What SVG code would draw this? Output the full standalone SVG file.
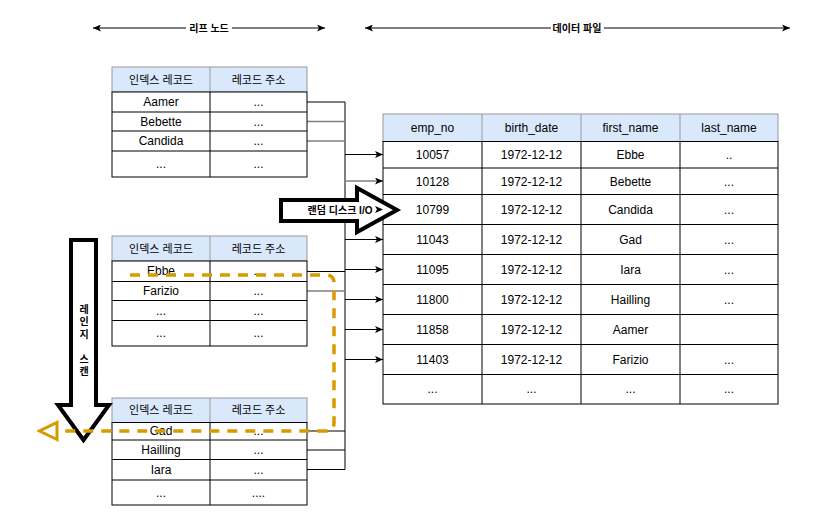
<svg xmlns="http://www.w3.org/2000/svg" width="821" height="527" viewBox="0 0 821 527">
<defs>
<marker id="ah" viewBox="0 0 8 7" markerWidth="8" markerHeight="7" refX="8" refY="3.5" orient="auto-start-reverse" markerUnits="userSpaceOnUse">
<path d="M0,0 L8,3.5 L0,7 L2,3.5 z" fill="#000"/>
</marker>
<marker id="open" viewBox="0 0 22 22" markerWidth="22" markerHeight="22" refX="2" refY="11" orient="auto" markerUnits="userSpaceOnUse">
<path d="M2,2.5 L19.5,11 L2,19.5 z" fill="none" stroke="#d79b00" stroke-width="3"/>
</marker>
</defs>
<style>
text{font-family:"Liberation Sans","Noto Sans CJK KR",sans-serif;fill:#000;text-anchor:middle;dominant-baseline:central}
.t{font-size:12px}
.h{font-size:11px}
.b{font-size:10px;font-weight:bold}
.hd{fill:#dae8fc;stroke:#999;stroke-width:1}
.bd{fill:#fff;stroke:#000;stroke-width:1}
.ln{stroke:#000;stroke-width:1;fill:none}
.gr{stroke:#808080;stroke-width:1.3;fill:none}
.big{fill:#fff;stroke:#000;stroke-width:4;stroke-linejoin:miter}
</style>
<rect width="821" height="527" fill="#fff"/>

<g id="leaf-label">
<line x1="93" y1="28" x2="325" y2="28" class="ln" marker-start="url(#ah)" marker-end="url(#ah)"/>
<rect x="186" y="21" width="46" height="14" fill="#fff"/>
<text class="b" x="209" y="28">리프 노드</text>
</g>
<g id="data-label">
<line x1="365" y1="28" x2="790" y2="28" class="ln" marker-start="url(#ah)" marker-end="url(#ah)"/>
<rect x="551" y="21" width="53" height="14" fill="#fff"/>
<text class="b" x="577" y="28">데이터 파일</text>
</g>

<g id="connectors">
<path class="ln" d="M307,102 H345 V469.5"/>
<path class="gr" d="M307,121.5 H345"/>
<path class="gr" d="M307,141 H345"/>
<path class="ln" d="M307,271.5 H345"/>
<path class="gr" d="M307,291 H345"/>
<path class="ln" d="M307,431 H345"/>
<path class="ln" d="M307,450 H345"/>
<path class="ln" d="M307,469.5 H345"/>
<line class="ln" x1="345" y1="154.5" x2="383" y2="154.5" marker-end="url(#ah)"/>
<line class="gr" x1="345" y1="181" x2="383" y2="181" marker-end="url(#ah)"/>
<line class="ln" x1="345" y1="209.5" x2="383" y2="209.5"/>
<line class="ln" x1="345" y1="239.5" x2="383" y2="239.5" marker-end="url(#ah)"/>
<line class="ln" x1="345" y1="269.5" x2="383" y2="269.5" marker-end="url(#ah)"/>
<line class="ln" x1="345" y1="299.5" x2="383" y2="299.5" marker-end="url(#ah)"/>
<line class="ln" x1="345" y1="329.5" x2="383" y2="329.5" marker-end="url(#ah)"/>
<line class="ln" x1="345" y1="359.5" x2="383" y2="359.5" marker-end="url(#ah)"/>
</g>

<g id="leaf1">
<rect class="hd" x="112" y="67" width="195" height="25"/>
<line x1="210" y1="67" x2="210" y2="92" stroke="#999"/>
<rect class="bd" x="112" y="92" width="195" height="85"/>
<path class="ln" d="M112,112 H307 M112,131 H307 M112,151 H307 M210,92 V177"/>
<text class="h" x="161" y="80">인덱스 레코드</text><text class="h" x="258.5" y="80">레코드 주소</text>
<text class="t" x="161" y="102">Aamer</text><text class="t" x="258.5" y="102">...</text>
<text class="t" x="161" y="121.5">Bebette</text><text class="t" x="258.5" y="121.5">...</text>
<text class="t" x="161" y="141">Candida</text><text class="t" x="258.5" y="141">...</text>
<text class="t" x="161" y="164">...</text><text class="t" x="258.5" y="164">...</text>
</g>

<g id="leaf2">
<rect class="hd" x="112" y="236" width="195" height="25"/>
<line x1="210" y1="236" x2="210" y2="261" stroke="#999"/>
<rect class="bd" x="112" y="261" width="195" height="85"/>
<path class="ln" d="M112,281.5 H307 M112,300.5 H307 M112,320.5 H307 M210,261 V346"/>
<text class="h" x="161" y="249">인덱스 레코드</text><text class="h" x="258.5" y="249">레코드 주소</text>
<text class="t" x="161" y="271">Ebbe</text><text class="t" x="258.5" y="271">...</text>
<text class="t" x="161" y="291">Farizio</text><text class="t" x="258.5" y="291">...</text>
<text class="t" x="161" y="310.5">...</text><text class="t" x="258.5" y="310.5">...</text>
<text class="t" x="161" y="333">...</text><text class="t" x="258.5" y="333">...</text>
</g>

<g id="leaf3">
<rect class="hd" x="112" y="398" width="195" height="24.5"/>
<line x1="210" y1="398" x2="210" y2="422.5" stroke="#999"/>
<rect class="bd" x="112" y="422.5" width="195" height="82.5"/>
<path class="ln" d="M112,440 H307 M112,459.5 H307 M112,480 H307 M210,422.5 V505"/>
<text class="h" x="161" y="410">인덱스 레코드</text><text class="h" x="258.5" y="410">레코드 주소</text>
<text class="t" x="161" y="431">Gad</text><text class="t" x="258.5" y="431">...</text>
<text class="t" x="161" y="450">Hailling</text><text class="t" x="258.5" y="450">...</text>
<text class="t" x="161" y="470">Iara</text><text class="t" x="258.5" y="470">...</text>
<text class="t" x="161" y="492.5">...</text><text class="t" x="258.5" y="492.5">....</text>
</g>

<g id="datafile">
<rect class="hd" x="383" y="114" width="395" height="27.5"/>
<path d="M482,114 V141.5 M581,114 V141.5 M680,114 V141.5" stroke="#999"/>
<rect class="bd" x="383" y="141.5" width="395" height="262.5"/>
<path class="ln" d="M383,168 H778 M383,194.5 H778 M383,224.5 H778 M383,254.5 H778 M383,284.5 H778 M383,314.5 H778 M383,344.5 H778 M383,374.5 H778 M482,141.5 V404 M581,141.5 V404 M680,141.5 V404"/>
<text class="t" x="432.5" y="128">emp_no</text><text class="t" x="531.5" y="128">birth_date</text><text class="t" x="630.5" y="128">first_name</text><text class="t" x="729" y="128">last_name</text>
<text class="t" x="432.5" y="155">10057</text><text class="t" x="531.5" y="155">1972-12-12</text><text class="t" x="630.5" y="155">Ebbe</text><text class="t" x="729" y="155">..</text>
<text class="t" x="432.5" y="181.5">10128</text><text class="t" x="531.5" y="181.5">1972-12-12</text><text class="t" x="630.5" y="181.5">Bebette</text><text class="t" x="729" y="181.5">...</text>
<text class="t" x="432.5" y="209.5">10799</text><text class="t" x="531.5" y="209.5">1972-12-12</text><text class="t" x="630.5" y="209.5">Candida</text><text class="t" x="729" y="209.5">...</text>
<text class="t" x="432.5" y="239.5">11043</text><text class="t" x="531.5" y="239.5">1972-12-12</text><text class="t" x="630.5" y="239.5">Gad</text><text class="t" x="729" y="239.5">...</text>
<text class="t" x="432.5" y="269.5">11095</text><text class="t" x="531.5" y="269.5">1972-12-12</text><text class="t" x="630.5" y="269.5">Iara</text><text class="t" x="729" y="269.5">...</text>
<text class="t" x="432.5" y="299.5">11800</text><text class="t" x="531.5" y="299.5">1972-12-12</text><text class="t" x="630.5" y="299.5">Hailling</text><text class="t" x="729" y="299.5">...</text>
<text class="t" x="432.5" y="329.5">11858</text><text class="t" x="531.5" y="329.5">1972-12-12</text><text class="t" x="630.5" y="329.5">Aamer</text>
<text class="t" x="432.5" y="359.5">11403</text><text class="t" x="531.5" y="359.5">1972-12-12</text><text class="t" x="630.5" y="359.5">Farizio</text><text class="t" x="729" y="359.5">...</text>
<text class="t" x="432.5" y="389">...</text><text class="t" x="531.5" y="389">...</text><text class="t" x="630.5" y="389">...</text><text class="t" x="729" y="389">...</text>
</g>

<g id="random-io">
<polygon class="big" points="281,200 357,200 357,188 397,210 357,232 357,221 281,221"/>
<text class="b" x="340" y="210">랜덤 디스크 I/O</text>
<path d="M375,206 L383,209.5 L375,213 L377,209.5 z" fill="#000"/>
</g>

<g id="range-scan">
<polygon class="big" points="71,240 96,240 96,405 109,405 83.5,440 58,405 71,405"/>
<text class="b" x="84" y="309">레</text>
<text class="b" x="84" y="321.5">인</text>
<text class="b" x="84" y="334">지</text>
<text class="b" x="84" y="359">스</text>
<text class="b" x="84" y="371.5">캔</text>
</g>

<g id="scan-path">
<path d="M130,275 H326 Q334,275 334,283 V423 Q334,431 326,431 H57" fill="none" stroke="#d79b00" stroke-width="3.5" stroke-dasharray="10 8" marker-end="url(#open)"/>
</g>
</svg>
